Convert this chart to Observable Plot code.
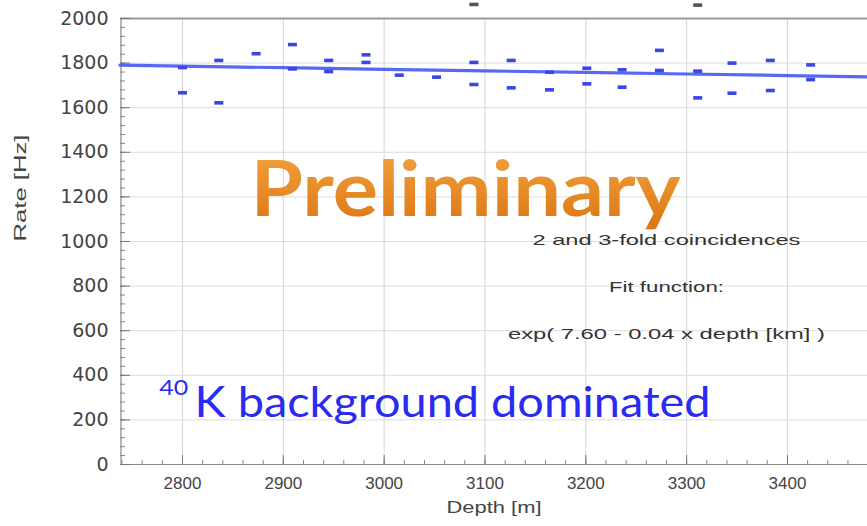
<!DOCTYPE html>
<html>
<head>
<meta charset="utf-8">
<script src="https://cdn.jsdelivr.net/npm/d3@7"></script>
<script src="https://cdn.jsdelivr.net/npm/@observablehq/plot@0.6"></script>
<style>
  body { margin: 0; background: #fff; }
  #chart svg { display: block; }
</style>
</head>
<body>
<div id="chart"></div>
<script>
// Measured coincidence rates per depth (m, Hz)
const pointDepth = [2800, 2800, 2836, 2836, 2873, 2909, 2909, 2945, 2945, 2982, 2982,
  3015, 3052, 3089, 3089, 3126, 3126, 3164, 3164, 3201, 3201, 3236, 3236,
  3273, 3273, 3311, 3311, 3345, 3345, 3383, 3383, 3423, 3423];
const pointRate = [1780, 1667, 1812, 1622, 1842, 1883, 1774, 1812, 1762, 1837, 1803,
  1746, 1737, 1803, 1704, 1812, 1689, 1759, 1680, 1777, 1707, 1770, 1692,
  1857, 1767, 1764, 1644, 1800, 1665, 1812, 1677, 1792, 1726];

// Entries above the plotted range
const overDepth = [3089, 3311];
const overRate = [2063, 2060];

// Fit parameters: rate = exp(a - b * depth[km])
const fitA = 7.60;
const fitB = 0.04;
const fitDepth = [2738, 2800, 2900, 3000, 3100, 3200, 3300, 3400, 3480];

// Axis ticks
const xMajor = [2800, 2900, 3000, 3100, 3200, 3300, 3400];
const xMinor = d3.range(2740, 3481, 20);
const yMajor = [0, 200, 400, 600, 800, 1000, 1200, 1400, 1600, 1800, 2000];
const yMinor = d3.range(0, 2001, 40);

const fit = fitDepth.map(d => ({depth: d, rate: Math.exp(fitA - fitB * d / 1000)}));
const points = pointDepth.map((d, i) => ({depth: d, rate: pointRate[i]}));
const overflow = overDepth.map((d, i) => ({depth: d, rate: overRate[i]}));

const W = 867, H = 526;
const mL = 120, mR = 0, mT = 18, mB = 62;
const plotW = W - mL - mR, plotH = H - mT - mB;

// Short horizontal dash used as point marker
const dash = {draw(ctx) { ctx.rect(-4.5, -1.8, 9, 3.6); }};

const grey = "#444";
const plain = d3.format("d");

const chart = Plot.plot({
  width: W,
  height: H,
  marginLeft: mL,
  marginRight: mR,
  marginTop: mT,
  marginBottom: mB,
  x: {domain: [2738.5, 3479.4]},
  y: {domain: [0, 2000]},
  style: {background: "#fff", overflow: "visible"},
  marks: [
    // grid
    Plot.ruleX(xMajor, {stroke: "#d6d6d6", strokeWidth: 1}),
    Plot.ruleY(yMajor.slice(1, -1), {stroke: "#dcdcdc", strokeWidth: 1}),
    // frame lines
    Plot.ruleY([2000], {stroke: "#9a9a9a", strokeWidth: 2}),
    Plot.ruleY([0], {stroke: "#888", strokeWidth: 1.2}),
    Plot.ruleX([2738.5], {stroke: "#888", strokeWidth: 1.2, dx: 0.5}),
    // inward ticks
    Plot.tickX(xMinor, {x: d => d, insetTop: plotH - 4, stroke: "#888"}),
    Plot.tickX(xMajor, {x: d => d, insetTop: plotH - 9, stroke: "#777"}),
    Plot.tickY(yMinor, {y: d => d, insetRight: plotW - 5, stroke: "#888"}),
    Plot.tickY(yMajor, {y: d => d, insetRight: plotW - 10, stroke: "#777"}),
    // tick labels
    Plot.axisX(xMajor, {tickSize: 0, tickPadding: 12, fontSize: 17, fill: grey, tickFormat: plain,
      fontFamily: "Liberation Sans, Arial, sans-serif", label: null}),
    Plot.axisY(yMajor, {tickSize: 0, tickPadding: 12, fontSize: 19, fill: grey, tickFormat: plain,
      fontFamily: "DejaVu Sans, sans-serif", label: null}),
    // axis titles
    Plot.text(["Depth [m]"], {frameAnchor: "bottom", dy: 48, fontSize: 17, fill: grey,
      fontFamily: "Liberation Sans, Arial, sans-serif"}),
    Plot.text(["Rate [Hz]"], {frameAnchor: "left", dx: -100, rotate: -90, fontSize: 17, fill: grey,
      fontFamily: "Liberation Sans, Arial, sans-serif"}),
    // fit curve
    Plot.line(fit, {x: "depth", y: "rate", stroke: "#4658f2", strokeWidth: 3.2, strokeOpacity: 0.9}),
    // data points
    Plot.dot(points, {x: "depth", y: "rate", symbol: dash, fill: "#3a46e6", stroke: "none"}),
    Plot.dot(overflow, {x: "depth", y: "rate", symbol: dash, fill: "#555", stroke: "none"}),
    // fit annotation
    Plot.text(["2 and 3-fold coincidences"], {x: () => 3280, y: () => 1006, fontSize: 15, fill: "#333",
      fontFamily: "Liberation Sans, Arial, sans-serif"}),
    Plot.text(["Fit function:"], {x: () => 3280, y: () => 794, fontSize: 15, fill: "#333",
      fontFamily: "Liberation Sans, Arial, sans-serif"}),
    Plot.text([`exp( ${fitA.toFixed(2)} - ${fitB.toFixed(2)} x depth [km] )`], {x: () => 3280, y: () => 583,
      fontSize: 15, fill: "#333", fontFamily: "Liberation Sans, Arial, sans-serif"}),
    // overlays
    Plot.text(["Preliminary"], {x: () => 2867.4, y: () => 1225, textAnchor: "start", fontSize: 76,
      fontWeight: "bold", fill: "#e8891c", fontFamily: "Lato, Open Sans, sans-serif"}),
    Plot.text(["40"], {x: () => 2777, y: () => 343, textAnchor: "start", fontSize: 22,
      fill: "#2a2af2", fontFamily: "Lato, Open Sans, sans-serif"}),
    Plot.text(["K background dominated"], {x: () => 2812, y: () => 275, textAnchor: "start", fontSize: 42,
      fill: "#2a2af2", fontFamily: "Lato, Open Sans, sans-serif"})
  ]
});

document.getElementById("chart").append(chart);

// Stretch text runs to their drawn widths
const widths = {
  "Preliminary": 430,
  "2 and 3-fold coincidences": 268,
  "Fit function:": 115,
  "K background dominated": 516,
  "40": 29,
  "Depth [m]": 95,
  "Rate [Hz]": 107
};
const svg = d3.select(chart);
svg.selectAll("text").each(function () {
  const t = this.textContent;
  let w = widths[t];
  if (t.startsWith("exp(")) w = 317;
  if (w) d3.select(this).attr("textLength", w).attr("lengthAdjust", "spacingAndGlyphs");
});

// Orange gradient for the "Preliminary" stamp
const defs = svg.insert("defs", ":first-child");
const grad = defs.append("linearGradient").attr("id", "prelim-grad")
  .attr("x1", 0).attr("y1", 0).attr("x2", 0).attr("y2", 1);
grad.append("stop").attr("offset", "0%").attr("stop-color", "#f3a845");
grad.append("stop").attr("offset", "100%").attr("stop-color", "#dc7410");
svg.selectAll("text").filter(function () { return this.textContent === "Preliminary"; })
  .attr("fill", "url(#prelim-grad)");
</script>
</body>
</html>
